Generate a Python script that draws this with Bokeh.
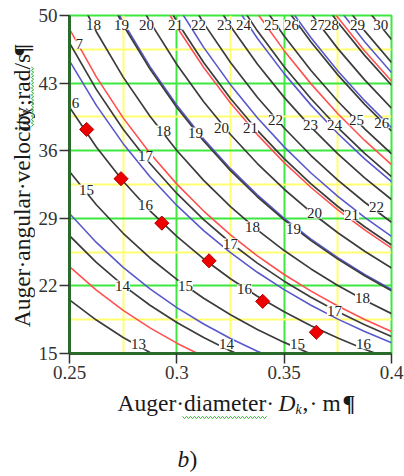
import math
from bokeh.plotting import figure
from bokeh.layouts import column, row
from bokeh.models import Range1d, FixedTicker
from bokeh.embed import file_html
from bokeh.resources import INLINE
from bokeh.core.properties import value

# ---------------- data ----------------
# auger diameter D_k (m) sample positions along every contour line
D_GRID = [0.25, 0.2625, 0.275, 0.2875, 0.3, 0.3125, 0.325, 0.3375, 0.35,
          0.3625, 0.375, 0.3875, 0.4]

# black contour levels and their angular velocity (rad/s) along D_GRID
BLACK_LEVELS = [13, 14, 15, 16, 17, 18, 19, 20, 21, 22, 23, 24, 25, 26, 27, 28, 29, 30]
BLACK_OMEGA = [
    [20.55, 18.46, 16.66, 15.11, 13.76, 12.58, 11.54, 10.62, 9.80, 9.07, 8.42, 7.84, 7.31],
    [27.20, 24.43, 22.05, 20.00, 18.21, 16.65, 15.27, 14.05, 12.97, 12.01, 11.15, 10.37, 9.67],
    [33.85, 30.40, 27.45, 24.89, 22.67, 20.72, 19.01, 17.49, 16.15, 14.95, 13.87, 12.91, 12.04],
    [40.50, 36.38, 32.84, 29.78, 27.12, 24.79, 22.74, 20.93, 19.32, 17.88, 16.60, 15.44, 14.40],
    [47.15, 42.35, 38.23, 34.67, 31.57, 28.86, 26.47, 24.36, 22.49, 20.82, 19.32, 17.98, 16.77],
    [53.80, 48.32, 43.62, 39.56, 36.02, 32.93, 30.21, 27.80, 25.66, 23.76, 22.05, 20.51, 19.13],
    [60.45, 54.30, 49.01, 44.45, 40.48, 37.00, 33.94, 31.23, 28.83, 26.69, 24.77, 23.05, 21.50],
    [67.10, 60.27, 54.40, 49.34, 44.93, 41.07, 37.68, 34.67, 32.01, 29.63, 27.50, 25.59, 23.86],
    [73.75, 66.24, 59.80, 54.23, 49.38, 45.14, 41.41, 38.11, 35.18, 32.57, 30.22, 28.12, 26.23],
    [80.40, 72.22, 65.19, 59.12, 53.84, 49.21, 45.14, 41.54, 38.35, 35.50, 32.95, 30.66, 28.59],
    [87.05, 78.19, 70.58, 64.01, 58.29, 53.28, 48.88, 44.98, 41.52, 38.44, 35.67, 33.19, 30.95],
    [93.70, 84.16, 75.97, 68.90, 62.74, 57.35, 52.61, 48.41, 44.69, 41.38, 38.40, 35.73, 33.32],
    [100.35, 90.13, 81.36, 73.79, 67.19, 61.42, 56.35, 51.85, 47.87, 44.31, 41.12, 38.26, 35.68],
    [107.00, 96.11, 86.76, 78.68, 71.65, 65.49, 60.08, 55.29, 51.04, 47.25, 43.85, 40.80, 38.05],
    [113.65, 102.08, 92.15, 83.57, 76.10, 69.57, 63.81, 58.72, 54.21, 50.19, 46.57, 43.33, 40.41],
    [120.30, 108.05, 97.54, 88.46, 80.55, 73.64, 67.55, 62.16, 57.38, 53.12, 49.30, 45.87, 42.78],
    [126.95, 114.03, 102.93, 93.35, 85.01, 77.71, 71.28, 65.60, 60.56, 56.06, 52.02, 48.41, 45.14],
    [133.60, 120.00, 108.32, 98.24, 89.46, 81.78, 75.02, 69.03, 63.73, 59.00, 54.75, 50.94, 47.51],
]

# red contour lines
RED_OMEGA = [
    [24.00, 21.56, 19.46, 17.65, 16.07, 14.69, 13.48, 12.40, 11.45, 10.60, 9.84, 9.15, 8.53],
    [48.60, 43.65, 39.40, 35.74, 32.54, 29.75, 27.29, 25.11, 23.18, 21.46, 19.92, 18.53, 17.28],
    [72.90, 65.48, 59.11, 53.60, 48.81, 44.62, 40.93, 37.67, 34.77, 32.19, 29.87, 27.80, 25.92],
    [97.20, 87.31, 78.81, 71.47, 65.09, 59.50, 54.58, 50.22, 46.36, 42.92, 39.83, 37.06, 34.56],
    [121.50, 109.13, 98.51, 89.34, 81.36, 74.37, 68.22, 62.78, 57.96, 53.65, 49.79, 46.33, 43.21],
]

# blue contour lines
BLUE_OMEGA = [
    [29.50, 26.50, 23.92, 21.69, 19.75, 18.06, 16.56, 15.24, 14.07, 13.03, 12.09, 11.25, 10.49],
    [45.30, 40.69, 36.73, 33.31, 30.33, 27.73, 25.44, 23.41, 21.61, 20.00, 18.56, 17.27, 16.11],
    [60.80, 54.61, 49.30, 44.71, 40.71, 37.22, 34.14, 31.42, 29.00, 26.85, 24.92, 23.18, 21.62],
    [76.30, 68.53, 61.86, 56.10, 51.09, 46.70, 42.84, 39.42, 36.40, 33.69, 31.27, 29.09, 27.13],
    [92.20, 82.81, 74.76, 67.79, 61.74, 56.44, 51.77, 47.64, 43.98, 40.72, 37.78, 35.16, 32.79],
    [108.00, 97.01, 87.57, 79.41, 72.32, 66.11, 60.64, 55.80, 51.52, 47.69, 44.26, 41.18, 38.40],
    [124.00, 111.38, 100.54, 91.18, 83.03, 75.90, 69.63, 64.07, 59.15, 54.76, 50.82, 47.28, 44.09],
]

# contour labels (text, D, omega)
LABEL_TEXT = ["18", "19", "20", "21", "22", "23", "24", "25", "26", "27", "28", "29", "30",
              "18", "19", "20", "21", "22", "23", "24", "25", "26",
              "17", "18", "19", "20", "21", "22",
              "15", "16", "17", "18",
              "14", "15", "16", "17",
              "13", "14", "15", "16",
              "7", "6"]
LABEL_D = [0.2612, 0.2742, 0.2859, 0.2994, 0.3101, 0.3222, 0.3311, 0.3441, 0.3534, 0.3655, 0.3720, 0.3842, 0.3950,
           0.2938, 0.3087, 0.3208, 0.3343, 0.3460, 0.3623, 0.3734, 0.3837, 0.3955,
           0.2854, 0.3352, 0.3543, 0.3641, 0.3814, 0.3930,
           0.2579, 0.2854, 0.3250, 0.3865,
           0.2747, 0.3040, 0.3315, 0.3734,
           0.2821, 0.3231, 0.3562, 0.3870,
           0.2545, 0.2528]
LABEL_W = [49.05, 49.05, 49.05, 49.05, 49.05, 49.05, 49.05, 49.05, 49.05, 49.05, 49.05, 49.05, 49.05,
           38.09, 37.88, 38.40, 38.40, 39.23, 38.71, 38.71, 39.13, 38.82,
           35.40, 28.15, 27.94, 29.50, 29.29, 30.12,
           31.98, 30.33, 26.39, 20.70,
           22.04, 22.04, 21.63, 19.45,
           15.95, 15.95, 15.95, 15.95,
           47.10, 40.89]

# optimum points (red diamonds)
D_OPT = [0.258, 0.274, 0.293, 0.315, 0.340, 0.365]
W_OPT = [38.2, 33.1, 28.5, 24.6, 20.4, 17.2]

X_TICKS = [0.25, 0.3, 0.35, 0.4]
X_TICK_LABELS = ["0.25", "0.3", "0.35", "0.4"]
X_MINOR = [0.275, 0.325, 0.375]
Y_TICKS = [15, 22, 29, 36, 43, 50]
Y_MINOR = [18.5, 25.5, 32.5, 39.5, 46.5]

X_TITLE = ["Auger\u00b7diameter\u00b7", "D", "k", ",", "\u00b7", "m", "\u00b6"]
Y_TITLE = ["Auger\u00b7angular\u00b7velocity\u00b7", "\u03c9", "k", ",rad/s", "\u00b6"]
CAPTION = ["b", ")"]

# ---------------- styles / layout ----------------
GREEN = "#3ee83e"
YELLOW = "#ffff70"
SERIF = "Liberation Serif"
TXT = "#1a1a1a"
TITLE_PX = 23.5
SUB_PX = 14

YLAB_W = 35            # strip holding the y title
FRAME_L, FRAME_T, FRAME_W, FRAME_H = 34, 15, 322, 338
BORDER_R, BORDER_B = 13, 34
MAIN_H = FRAME_T + FRAME_H + BORDER_B
TOTAL_H = 474
XLAB_H = TOTAL_H - MAIN_H
TOTAL_W = YLAB_W + FRAME_L + FRAME_W + BORDER_R

p = figure(frame_width=FRAME_W, frame_height=FRAME_H,
           min_border_left=FRAME_L, min_border_top=FRAME_T,
           min_border_right=BORDER_R, min_border_bottom=BORDER_B,
           x_range=Range1d(X_TICKS[0], X_TICKS[-1]), y_range=Range1d(Y_TICKS[0], Y_TICKS[-1]),
           output_backend="svg", toolbar_location=None)
p.background_fill_color = "white"
p.border_fill_color = "white"
p.outline_line_color = GREEN
p.outline_line_width = 2

p.xaxis.ticker = FixedTicker(ticks=X_TICKS, minor_ticks=X_MINOR)
p.yaxis.ticker = FixedTicker(ticks=Y_TICKS, minor_ticks=Y_MINOR)
p.xaxis.major_label_overrides = {t: s for t, s in zip(X_TICKS, X_TICK_LABELS)}
for g in (p.xgrid, p.ygrid):
    g.grid_line_color = GREEN
    g.grid_line_width = 2
    g.minor_grid_line_color = YELLOW
    g.minor_grid_line_width = 2

for ax in (p.xaxis, p.yaxis):
    ax.axis_line_color = "#2a6a2a"
    ax.axis_line_width = 3
    ax.major_tick_line_color = "#333333"
    ax.major_tick_line_width = 1.5
    ax.major_tick_in = 0
    ax.major_tick_out = 10
    ax.minor_tick_line_color = None
    ax.major_label_text_font = SERIF
    ax.major_label_text_font_size = "19px"
    ax.major_label_text_color = "#333333"
    ax.major_label_standoff = 2

p.multi_line(xs=[D_GRID] * len(BLUE_OMEGA), ys=BLUE_OMEGA, line_color="#5858cc", line_width=1.6)
p.multi_line(xs=[D_GRID] * len(RED_OMEGA), ys=RED_OMEGA, line_color="#ff5050", line_width=1.6)
p.multi_line(xs=[D_GRID] * len(BLACK_OMEGA), ys=BLACK_OMEGA, line_color="#3c3c3c", line_width=1.7)

p.text(x=LABEL_D, y=LABEL_W, text=LABEL_TEXT, text_font=value(SERIF), text_font_size="15px",
       text_align="center", text_baseline="middle", text_color="#222222",
       background_fill_color="white")

p.scatter(x=D_OPT, y=W_OPT, marker="square", angle=math.pi / 4, size=10,
          fill_color="#ee0000", line_color="#aa0000", line_width=1)


# ---------------- text strips (pixel coordinate canvases) ----------------
def strip(w, h):
    f = figure(width=w, height=h, x_range=Range1d(0, w), y_range=Range1d(0, h),
               x_axis_type=None, y_axis_type=None, min_border=0,
               output_backend="svg", toolbar_location=None)
    f.outline_line_color = None
    f.background_fill_color = "white"
    f.border_fill_color = "white"
    f.grid.visible = False
    return f


def put(f, oy, h, px, py, text, size=TITLE_PX, style="normal", angle=0.0):
    # (px, py): page position of the text's baseline start; the glyph is anchored on its
    # middle, which lies 0.34 em above the baseline (to the left when rotated by 90 deg)
    mid = 0.34 * size
    if angle:
        ax_, ay_ = px - mid, py
    else:
        ax_, ay_ = px, py - mid
    f.text(x=[ax_], y=[h - (ay_ - oy)], text=[text], angle=angle,
           text_font=value(SERIF), text_font_size="%.1fpx" % size, text_font_style=style,
           text_align="left", text_baseline="middle", text_color=TXT)


def squiggle(f, pts, color="#3cb43c"):
    f.line(x=[q[0] for q in pts], y=[q[1] for q in pts], line_color=color, line_width=1)


# y title strip: page origin (0, 0)
fy_ = strip(YLAB_W, MAIN_H)
A = math.pi / 2
put(fy_, 0, MAIN_H, 29, 357, Y_TITLE[0], angle=A)
put(fy_, 0, MAIN_H, 29, 133, Y_TITLE[1], style="italic", angle=A)
put(fy_, 0, MAIN_H, 33, 113, Y_TITLE[2], size=SUB_PX, style="italic", angle=A)
put(fy_, 0, MAIN_H, 29, 103, Y_TITLE[3], angle=A)
put(fy_, 0, MAIN_H, 29, 47, Y_TITLE[4], style="bold", angle=A)
sq = []
k = 0
yy = 127
while yy >= 58:
    sq.append((32 + (1.2 if k % 2 else -1.2), MAIN_H - yy))
    yy -= 2
    k += 1
squiggle(fy_, sq)

# x title strip: page origin (0, MAIN_H)
OY = MAIN_H
fx_ = strip(TOTAL_W, XLAB_H)
put(fx_, OY, XLAB_H, 117, 410, X_TITLE[0])
put(fx_, OY, XLAB_H, 278, 410, X_TITLE[1], style="italic")
put(fx_, OY, XLAB_H, 295, 414, X_TITLE[2], size=SUB_PX, style="italic")
put(fx_, OY, XLAB_H, 302, 410, X_TITLE[3])
put(fx_, OY, XLAB_H, 309, 410, X_TITLE[4])
put(fx_, OY, XLAB_H, 322, 410, X_TITLE[5])
put(fx_, OY, XLAB_H, 342, 410, X_TITLE[6], style="bold")
put(fx_, OY, XLAB_H, 177, 466, CAPTION[0], style="italic")
put(fx_, OY, XLAB_H, 189, 466, CAPTION[1])
sq = []
k = 0
xx = 182
while xx <= 266:
    sq.append((xx, XLAB_H - (417 + (1.2 if k % 2 else -1.2) - OY)))
    xx += 2
    k += 1
squiggle(fx_, sq)

layout = column(row(fy_, p), fx_)
open("out.html", "w").write(file_html(layout, INLINE))
